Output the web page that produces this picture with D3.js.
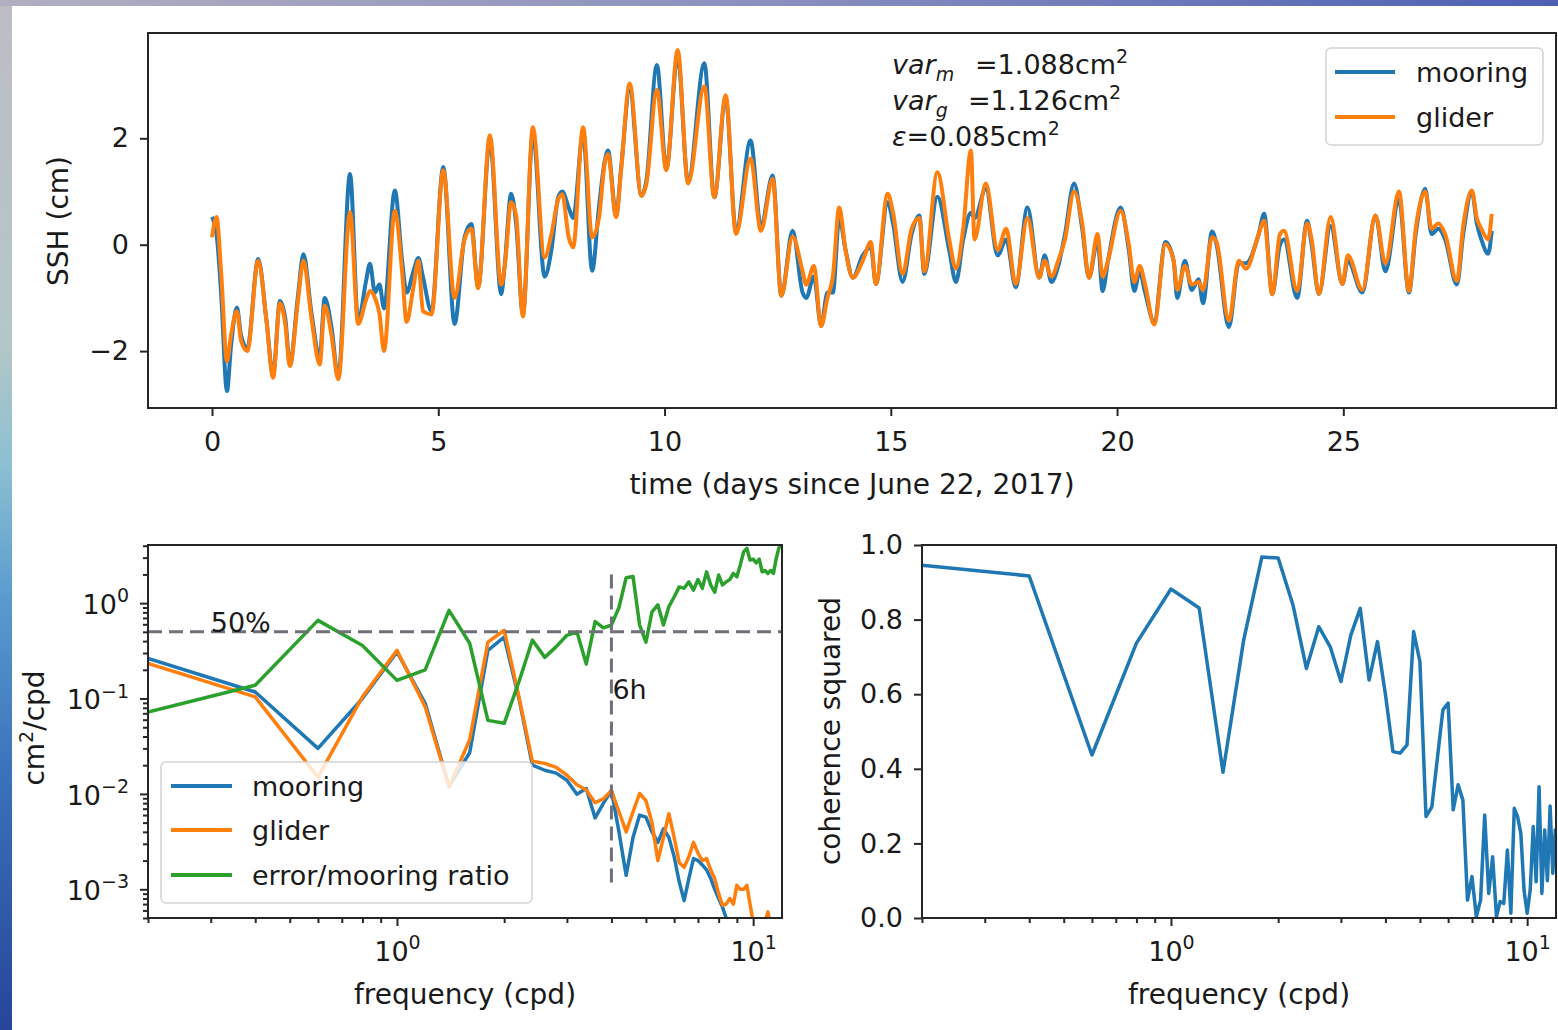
<!DOCTYPE html>
<html>
<head>
	<title>SSH mooring vs glider</title>
	<meta charset="UTF-8">
	<style>
		body { margin: 0; background: #fff; }
		svg text { font-family: "DejaVu Sans", sans-serif; fill: #1a1a1a; }
	</style>
</head>
<body>
<script src="https://d3js.org/d3.v7.min.js"></script>
<script type="text/javascript">

'use strict';

// ---- time series (days since June 22, 2017), SSH in cm
var tDays = [
	0.00,0.10,0.20,0.33,0.42,0.55,0.64,0.78,1.02,1.20,
	1.35,1.50,1.62,1.72,1.90,2.02,2.20,2.38,2.49,2.64,
	2.79,3.05,3.23,3.40,3.49,3.60,3.70,3.80,4.04,4.20,
	4.30,4.45,4.56,4.66,4.85,5.11,5.36,5.58,5.73,5.88,
	6.14,6.39,6.47,6.61,6.72,6.87,7.09,7.35,7.50,7.65,
	7.74,7.88,7.98,8.20,8.40,8.55,8.68,8.75,8.93,9.04,
	9.23,9.49,9.60,9.83,10.04,10.29,10.52,10.88,11.10,11.35,
	11.58,11.90,12.13,12.39,12.58,12.83,13.05,13.13,13.30,13.46,
	13.60,13.72,13.86,14.00,14.16,14.38,14.56,14.67,14.93,15.05,
	15.26,15.46,15.63,15.74,16.03,16.29,16.44,16.60,16.77,16.85,
	17.10,17.36,17.55,17.76,18.02,18.28,18.40,18.55,18.70,18.85,
	19.05,19.23,19.38,19.57,19.68,19.80,20.08,20.26,20.38,20.50,
	20.62,20.82,21.07,21.25,21.33,21.50,21.65,21.80,21.90,22.10,
	22.20,22.47,22.69,22.85,23.13,23.25,23.43,23.60,23.69,23.98,
	24.20,24.30,24.46,24.72,24.98,25.10,25.42,25.71,25.93,26.23,
	26.45,26.60,26.81,26.95,27.10,27.25,27.51,27.65,27.84,27.95,
	28.05,28.20,28.28
];
var sshMooring = [
	0.52,0.20,-0.90,-2.75,-1.90,-1.18,-1.70,-1.95,-0.27,-1.40,
	-2.45,-1.06,-1.40,-2.25,-0.95,-0.18,-1.30,-2.10,-1.00,-1.55,
	-2.50,1.33,-1.45,-0.70,-0.36,-0.90,-0.75,-1.20,1.02,-0.30,
	-0.90,-0.50,-0.25,-0.60,-1.25,1.46,-1.49,0.14,0.39,-0.80,
	1.95,-0.93,-0.36,0.96,0.40,-1.31,2.10,-0.60,-0.10,0.89,
	1.00,0.70,0.50,2.10,-0.49,0.70,1.58,1.77,0.55,1.44,
	2.90,0.92,1.21,3.38,1.43,3.55,1.18,3.41,0.89,2.75,
	0.25,1.96,0.35,1.30,-0.96,0.26,-0.90,-1.00,-0.60,-1.53,
	-0.90,-0.90,0.50,-0.10,-0.62,-0.20,-0.05,-0.74,0.80,0.40,
	-0.70,0.20,0.55,-0.55,0.90,-0.10,-0.70,0.10,0.60,0.50,
	1.05,-0.20,0.10,-0.80,0.70,-0.62,-0.20,-0.70,-0.40,0.20,
	1.15,0.30,-0.62,0.08,-0.87,-0.30,0.70,-0.10,-0.87,-0.50,
	-0.90,-1.45,0.05,-0.30,-1.00,-0.30,-0.85,-0.65,-1.10,0.25,
	0.00,-1.55,-0.35,-0.35,0.20,0.58,-0.93,0.00,0.10,-1.00,
	0.45,0.00,-0.93,0.35,-0.74,-0.30,-0.90,0.55,-0.50,0.85,
	-0.90,0.20,1.05,0.20,0.30,0.10,-0.75,0.20,1.00,0.40,
	0.10,-0.17,0.26
];
var sshGlider = [
	0.14,0.52,-0.50,-2.19,-1.70,-1.25,-1.80,-2.00,-0.30,-1.40,
	-2.50,-1.10,-1.50,-2.28,-1.05,-0.30,-1.40,-2.25,-1.15,-1.70,
	-2.53,0.61,-1.49,-1.05,-0.87,-1.00,-1.30,-2.00,0.64,-0.50,
	-1.45,-0.80,-0.30,-1.25,-1.31,1.40,-1.00,0.10,0.30,-0.82,
	2.06,-0.75,-0.40,0.80,0.55,-1.35,2.21,-0.24,0.20,0.85,
	0.95,0.15,-0.05,2.21,0.14,0.50,1.55,1.70,0.52,1.40,
	3.03,0.92,1.15,2.91,1.40,3.66,1.15,2.98,0.89,2.81,
	0.20,1.62,0.26,1.24,-0.96,0.15,-0.50,-0.75,-0.40,-1.53,
	-1.00,-0.60,0.70,-0.10,-0.62,-0.30,0.05,-0.74,0.96,0.60,
	-0.55,0.30,0.50,-0.50,1.36,0.10,-0.45,0.30,1.77,0.10,
	1.15,-0.10,0.30,-0.74,0.50,-0.62,-0.30,-0.60,-0.30,0.10,
	1.00,0.40,-0.62,0.20,-0.60,-0.30,0.64,0.00,-0.70,-0.40,
	-0.75,-1.50,0.01,-0.30,-0.85,-0.40,-0.75,-0.70,-0.85,0.14,
	0.05,-1.43,-0.30,-0.45,0.20,0.45,-0.93,0.20,0.26,-0.87,
	0.40,0.10,-0.93,0.52,-0.74,-0.20,-0.85,0.55,-0.35,1.00,
	-0.87,0.30,1.00,0.30,0.40,0.20,-0.68,0.35,1.02,0.50,
	0.30,0.10,0.58
];

// ---- spectra (frequency in cycles per day)
var freq = [
	0.2,0.4,0.6,0.8,1.0,1.2,1.4,1.6,1.8,2.0,
	2.2,2.4,2.6,2.8,3.0,3.2,3.4,3.6,3.8,4.0,
	4.2,4.4,4.6,4.8,5.0,5.2,5.4,5.6,5.8,6.0,
	6.2,6.4,6.6,6.8,7.0,7.2,7.4,7.6,7.8,8.0,
	8.2,8.4,8.6,8.8,9.0,9.2,9.4,9.6,9.8,10.0,
	10.2,10.4,10.6,10.8,11.0,11.2,11.4,11.6,11.8,12.0
];
var psdMooring = [
	0.263,0.117,0.030,0.100,0.308,0.089,0.012,0.027,0.32,0.44,
	0.10,0.020,0.0177,0.0165,0.0139,0.0099,0.0114,0.0056,0.0080,0.0109,
	0.0040,0.0014,0.0035,0.0060,0.0057,0.0040,0.0031,0.0043,0.0035,0.0022,
	0.0012,0.00076,0.0013,0.0021,0.0020,0.0018,0.0016,0.0013,0.0010,0.0008,
	0.00065,0.0005,0.00042,0.00045,0.00038,0.0004,0.00035,0.0004,0.0003,0.00035,
	0.0003,0.00028,0.00032,0.00027,0.0003,0.00026,0.00028,0.00025,0.00027,0.00024
];
var psdGlider = [
	0.233,0.104,0.015,0.104,0.32,0.082,0.0118,0.037,0.39,0.52,
	0.104,0.022,0.0209,0.019,0.0157,0.0125,0.0110,0.0081,0.0089,0.0109,
	0.0065,0.0040,0.0065,0.0101,0.0085,0.0050,0.0020,0.0035,0.0062,0.0035,
	0.0019,0.0017,0.0022,0.0031,0.0024,0.0020,0.0021,0.0016,0.0013,0.0009,
	0.00068,0.0007,0.0008,0.0007,0.0011,0.0010,0.0010,0.0011,0.0007,0.00045,
	0.0004,0.00035,0.0004,0.00045,0.00058,0.0004,0.00032,0.0003,0.00035,0.0003
];
var errorRatio = [
	0.072,0.138,0.66,0.36,0.155,0.20,0.84,0.38,0.059,0.055,
	0.15,0.41,0.27,0.35,0.46,0.50,0.23,0.64,0.55,0.59,
	0.90,1.85,1.90,0.59,0.39,0.81,0.96,0.59,0.92,1.16,
	1.48,1.43,1.67,1.37,1.77,1.43,2.13,1.55,1.30,1.97,
	1.55,1.67,1.77,2.05,1.89,2.5,3.45,3.75,2.83,2.9,
	2.65,2.9,2.13,2.2,2.05,2.2,2.05,2.9,3.75,4.2
];
var coherence = [
	0.946,0.917,0.437,0.737,0.882,0.831,0.391,0.745,0.968,0.965,
	0.84,0.669,0.781,0.727,0.634,0.759,0.830,0.638,0.741,0.60,
	0.446,0.442,0.464,0.768,0.687,0.272,0.298,0.43,0.558,0.576,
	0.29,0.357,0.316,0.048,0.111,0.004,0.048,0.276,0.066,0.164,
	0.004,0.044,0.039,0.182,0.013,0.294,0.272,0.227,0.075,0.013,
	0.075,0.245,0.097,0.352,0.066,0.236,0.10,0.30,0.12,0.24
];

var timeTicks = [0, 5, 10, 15, 20, 25];
var sshTicks = [-2, 0, 2];
var cohTicks = [0, 0.2, 0.4, 0.6, 0.8, 1.0];
var stats = [["var", "m", "=1.088cm"], ["var", "g", "=1.126cm"], ["\u03b5", "", "=0.085cm"]];

var C_M = "#1f77b4", C_G = "#ff7f0e", C_R = "#2ca02c";
var FONT = '"DejaVu Sans", sans-serif';

var svg = d3.select("body").append("svg")
	.attr("width", 1558)
	.attr("height", 1030);

// backdrop: slide border (left picture strip and top bar)
var defs = svg.append("defs");
var strip = defs.append("linearGradient").attr("id", "strip")
	.attr("x1", 0).attr("y1", 0).attr("x2", 0).attr("y2", 1);
[["0%", "#bdbcc6"], ["33%", "#b4c7c6"], ["45%", "#8cc0d2"], ["58%", "#5a9bcf"], ["75%", "#3a72bb"], ["100%", "#26459a"]]
	.forEach(function(s){ strip.append("stop").attr("offset", s[0]).attr("stop-color", s[1]); });
var bar = defs.append("linearGradient").attr("id", "bar");
[["0%", "#b1afc0"], ["50%", "#8a8fbf"], ["100%", "#4d60b4"]]
	.forEach(function(s){ bar.append("stop").attr("offset", s[0]).attr("stop-color", s[1]); });
svg.append("rect").attr("width", 12).attr("height", 1030).attr("fill", "url(#strip)");
svg.append("rect").attr("width", 1558).attr("height", 6).attr("fill", "url(#bar)");

function panel(left, top, w, h, id){
	var g = svg.append("g").attr("transform", "translate(" + left + "," + top + ")");
	defs.append("clipPath").attr("id", id).append("rect").attr("width", w).attr("height", h);
	g.plot = g.append("g").attr("clip-path", "url(#" + id + ")");
	g.w = w; g.h = h;
	return g;
}

function frame(g){
	g.append("rect").attr("width", g.w).attr("height", g.h)
		.attr("fill", "none").attr("stroke", "#262626").attr("stroke-width", 2);
}

function styleAxis(a){
	a.select(".domain").remove();
	a.selectAll(".tick line").attr("stroke", "#262626").attr("stroke-width", 2);
	a.selectAll(".tick text").attr("fill", "#1a1a1a").style("font-size", "27px").style("font-family", FONT);
}

function xAxis(g, axis){
	var a = g.append("g").attr("transform", "translate(0," + g.h + ")").call(axis);
	styleAxis(a);
	a.selectAll(".tick text").attr("dy", null).attr("y", 43);
	return a;
}

function yAxis(g, axis){
	var a = g.append("g").call(axis);
	styleAxis(a);
	return a;
}

function isDecade(v){ var l = Math.log10(v); return Math.abs(l - Math.round(l)) < 1e-6; }

function sciLabel(text){
	text.each(function(d){
		var e = Math.round(Math.log10(d));
		var t = d3.select(this).text(null);
		t.append("tspan").text("10");
		t.append("tspan").attr("dy", "-0.62em").style("font-size", "19px").text(d3.format("d")(e));
	});
}

function legend(g, x, y, w, h, items, rowY, lineX, textX){
	var lg = g.append("g");
	lg.append("rect").attr("x", x).attr("y", y).attr("width", w).attr("height", h)
		.attr("rx", 5).attr("fill", "#fff").attr("fill-opacity", 0.8)
		.attr("stroke", "#d4d4d4").attr("stroke-width", 1.5);
	items.forEach(function(it, i){
		lg.append("line").attr("x1", lineX[0]).attr("x2", lineX[1])
			.attr("y1", rowY[i]).attr("y2", rowY[i])
			.attr("stroke", it[1]).attr("stroke-width", 4);
		lg.append("text").attr("x", textX).attr("y", rowY[i] + 10)
			.style("font-size", "27px").text(it[0]);
	});
}

function yLabel(x, y, txt){
	return svg.append("text").attr("transform", "translate(" + x + "," + y + ") rotate(-90)")
		.attr("text-anchor", "middle").style("font-size", "28px").text(txt);
}

/**
 * Time series
 */
var p1 = panel(148, 33, 1408, 375, "clip1");
var x1 = d3.scaleLinear().domain([-1.415, 29.7]).range([0, p1.w]);
var y1 = d3.scaleLinear().domain([-3.07, 3.98]).range([p1.h, 0]);

var sshLine = function(vals){
	return d3.line()
		.x(function(d, i){ return x1(tDays[i]); })
		.y(function(d){ return y1(d); })
		.curve(d3.curveMonotoneX)(vals);
};

p1.plot.append("path").attr("d", sshLine(sshMooring))
	.attr("fill", "none").attr("stroke", C_M).attr("stroke-width", 4).attr("stroke-linejoin", "round");
p1.plot.append("path").attr("d", sshLine(sshGlider))
	.attr("fill", "none").attr("stroke", C_G).attr("stroke-width", 4).attr("stroke-linejoin", "round");

xAxis(p1, d3.axisBottom(x1).tickValues(timeTicks).tickSize(8).tickFormat(d3.format("d")));
yAxis(p1, d3.axisLeft(y1).tickValues(sshTicks).tickSize(8).tickPadding(11).tickFormat(d3.format("d")));
frame(p1);

stats.forEach(function(s, i){
	var t = svg.append("text").attr("x", 892).attr("y", 74 + i * 36).style("font-size", "27px");
	t.append("tspan").style("font-style", "italic").text(s[0]);
	if (s[1]) {
		t.append("tspan").style("font-style", "italic").style("font-size", "19px").attr("dy", 7).text(s[1]);
		t.append("tspan").attr("x", i === 0 ? 975 : 968).attr("dy", -7).text(s[2]);
	} else {
		t.append("tspan").text(s[2]);
	}
	t.append("tspan").style("font-size", "19px").attr("dy", -11).text("2");
});

legend(svg, 1326, 48, 217, 97, [["mooring", C_M], ["glider", C_G]], [72, 117], [1335, 1395], 1416);

svg.append("text").attr("x", 852).attr("y", 494).attr("text-anchor", "middle")
	.style("font-size", "28px").text("time (days since June 22, 2017)");
yLabel(68, 221, "SSH (cm)");

/**
 * Spectra
 */
var p2 = panel(148, 545, 634, 373, "clip2");
var x2 = d3.scaleLog().domain([0.2, 12.05]).range([0, p2.w]);
var y2 = d3.scaleLog().domain([5e-4, 4.07]).range([p2.h, 0]);

var specLine = function(vals){
	return d3.line()
		.x(function(d, i){ return x2(freq[i]); })
		.y(function(d){ return y2(d); })(vals);
};

[[psdMooring, C_M], [psdGlider, C_G], [errorRatio, C_R]].forEach(function(s){
	p2.plot.append("path").attr("d", specLine(s[0]))
		.attr("fill", "none").attr("stroke", s[1]).attr("stroke-width", 3.5).attr("stroke-linejoin", "round");
});

p2.plot.append("line")
	.attr("x1", 0).attr("x2", p2.w).attr("y1", y2(0.5)).attr("y2", y2(0.5))
	.attr("stroke", "#6f6f7a").attr("stroke-width", 3).attr("stroke-dasharray", "14,7");
p2.plot.append("line")
	.attr("x1", x2(4)).attr("x2", x2(4)).attr("y1", y2(2)).attr("y2", y2(1e-3))
	.attr("stroke", "#6f6f7a").attr("stroke-width", 3).attr("stroke-dasharray", "14,7");
p2.append("text").attr("x", x2(0.3)).attr("y", y2(0.5)).style("font-size", "27px").text("50%");
p2.append("text").attr("x", x2(4) + 1).attr("y", y2(0.1)).style("font-size", "27px").text("6h");

xAxis(p2, d3.axisBottom(x2).tickValues(x2.ticks().filter(function(v){ return !isDecade(v); })).tickSize(5).tickFormat(""));
xAxis(p2, d3.axisBottom(x2).tickValues([1, 10]).tickSize(8)).selectAll(".tick text").call(sciLabel);
yAxis(p2, d3.axisLeft(y2).tickValues(y2.ticks().filter(function(v){ return !isDecade(v); })).tickSize(5).tickFormat(""));
yAxis(p2, d3.axisLeft(y2).tickValues([1e-3, 1e-2, 1e-1, 1]).tickSize(8).tickPadding(11))
	.selectAll(".tick text").attr("dy", "0.38em").call(sciLabel);
frame(p2);

legend(svg, 161, 762, 371, 141, [["mooring", C_M], ["glider", C_G], ["error/mooring ratio", C_R]],
	[786, 830, 875], [171, 232], 252);

svg.append("text").attr("x", 465).attr("y", 1004).attr("text-anchor", "middle")
	.style("font-size", "28px").text("frequency (cpd)");
var cl = yLabel(44, 728, "cm");
cl.append("tspan").attr("dy", -11).style("font-size", "19px").text("2");
cl.append("tspan").attr("dy", 11).text("/cpd");

/**
 * Coherence
 */
var p3 = panel(922, 545, 634, 373, "clip3");
var x3 = d3.scaleLog().domain([0.2, 12.05]).range([0, p3.w]);
var y3 = d3.scaleLinear().domain([0, 1]).range([p3.h, 0]);

p3.plot.append("path")
	.attr("d", d3.line()
		.x(function(d, i){ return x3(freq[i]); })
		.y(function(d){ return y3(d); })(coherence))
	.attr("fill", "none").attr("stroke", C_M).attr("stroke-width", 3.5).attr("stroke-linejoin", "round");

xAxis(p3, d3.axisBottom(x3).tickValues(x3.ticks().filter(function(v){ return !isDecade(v); })).tickSize(5).tickFormat(""));
xAxis(p3, d3.axisBottom(x3).tickValues([1, 10]).tickSize(8)).selectAll(".tick text").call(sciLabel);
yAxis(p3, d3.axisLeft(y3).tickValues(cohTicks).tickSize(8).tickPadding(11).tickFormat(d3.format(".1f")));
frame(p3);

svg.append("text").attr("x", 1239).attr("y", 1004).attr("text-anchor", "middle")
	.style("font-size", "28px").text("frequency (cpd)");
yLabel(840, 731, "coherence squared");

</script>
</body>
</html>
